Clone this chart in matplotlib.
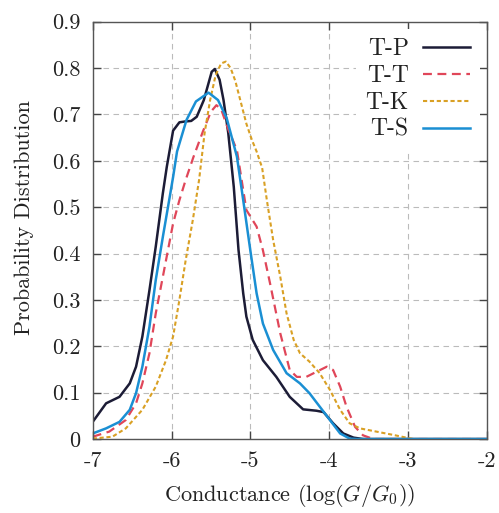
import numpy as np
import matplotlib
matplotlib.use("Agg")
import matplotlib.pyplot as plt

# values
tp_x = [-7, -6.83, -6.66, -6.53, -6.45, -6.37, -6.28, -6.20, -6.11, -6.06, -5.98, -5.90, -5.82, -5.75,
        -5.68, -5.59, -5.49, -5.45, -5.39, -5.34, -5.28, -5.21, -5.15, -5.09, -5.05, -4.97, -4.84,
        -4.67, -4.50, -4.33, -4.16, -4.07, -3.95, -3.82, -3.69, -3.57, -2]
tp_y = [0.037, 0.077, 0.091, 0.12, 0.156, 0.221, 0.321, 0.415, 0.530, 0.587, 0.665, 0.683, 0.685, 0.686,
        0.695, 0.731, 0.792, 0.798, 0.775, 0.731, 0.66, 0.544, 0.408, 0.314, 0.264, 0.214, 0.17,
        0.134, 0.091, 0.064, 0.061, 0.058, 0.034, 0.012, 0.003, 0, 0]

tt_x = [-7, -6.79, -6.58, -6.45, -6.37, -6.28, -6.20, -6.11, -5.98, -5.90, -5.82, -5.72, -5.60, -5.50,
        -5.43, -5.37, -5.28, -5.17, -5.05, -4.92, -4.84, -4.75, -4.62, -4.50, -4.41, -4.29, -4.16,
        -4.03, -3.95, -3.86, -3.78, -3.67, -3.57, -3.44, -2]
tt_y = [0.005, 0.016, 0.041, 0.077, 0.12, 0.185, 0.271, 0.35, 0.465, 0.515, 0.559, 0.609, 0.664, 0.706,
        0.72, 0.711, 0.668, 0.623, 0.494, 0.458, 0.407, 0.336, 0.228, 0.149, 0.134, 0.134, 0.145,
        0.156, 0.149, 0.113, 0.070, 0.026, 0.008, 0, 0]

tk_x = [-7, -6.75, -6.58, -6.37, -6.20, -6.07, -5.98, -5.90, -5.82, -5.73, -5.65, -5.58, -5.51, -5.44,
        -5.37, -5.31, -5.25, -5.19, -5.12, -5.05, -4.98, -4.92, -4.85, -4.79, -4.71, -4.62, -4.54,
        -4.45, -4.37, -4.25, -4.12, -3.99, -3.86, -3.74, -3.61, -3.40, -3.19, -3.02, -2.93, -2]
tk_y = [0.001, 0.005, 0.023, 0.063, 0.113, 0.17, 0.221, 0.30, 0.386, 0.472, 0.559, 0.66, 0.731, 0.785,
        0.81, 0.814, 0.80, 0.772, 0.726, 0.68, 0.645, 0.62, 0.585, 0.515, 0.429, 0.35, 0.271,
        0.214, 0.185, 0.167, 0.142, 0.106, 0.063, 0.034, 0.023, 0.016, 0.009, 0.003, 0, 0]

ts_x = [-7, -6.83, -6.66, -6.53, -6.45, -6.37, -6.28, -6.20, -6.11, -6.03, -5.98, -5.93, -5.81, -5.69,
        -5.53, -5.41, -5.30, -5.17, -5.09, -5.00, -4.92, -4.84, -4.71, -4.54, -4.37, -4.25, -4.12,
        -3.99, -3.86, -3.74, -3.65, -2]
ts_y = [0.012, 0.023, 0.037, 0.063, 0.099, 0.156, 0.242, 0.343, 0.436, 0.515, 0.565, 0.620, 0.688, 0.728,
        0.747, 0.731, 0.692, 0.609, 0.515, 0.407, 0.314, 0.249, 0.192, 0.142, 0.12, 0.099, 0.070,
        0.041, 0.012, 0.001, 0, 0]

x_ticks = [-7, -6, -5, -4, -3, -2]
y_ticks = [0, 0.1, 0.2, 0.3, 0.4, 0.5, 0.6, 0.7, 0.8, 0.9]
y_labels = ["0", "0.1", "0.2", "0.3", "0.4", "0.5", "0.6", "0.7", "0.8", "0.9"]

plt.rcParams['font.family'] = ['cmr10', 'DejaVu Serif']
plt.rcParams['mathtext.fontset'] = 'cm'
plt.rcParams['axes.unicode_minus'] = False
plt.rcParams['axes.formatter.use_mathtext'] = True

txt = '#222222'
fig = plt.figure(figsize=(4.99, 5.13), dpi=100)
ax = fig.add_axes([0.1858, 0.1442, 0.7896, 0.8135])

ax.plot(tp_x, tp_y, color='#1c1c36', lw=1.8, label='T-P')
ax.plot(tt_x, tt_y, color='#e04659', lw=1.6, ls=(0, (4, 2.5)), label='T-T')
ax.plot(tk_x, tk_y, color='#d9a024', lw=1.5, ls=(0, (2, 1.3)), label='T-K')
ax.plot(ts_x, ts_y, color='#1a8fd3', lw=1.8, label='T-S')

ax.set_xlim(-7, -2)
ax.set_ylim(0, 0.9)
ax.set_xticks(x_ticks)
ax.set_xticklabels([str(v) for v in x_ticks])
ax.set_yticks(y_ticks)
ax.set_yticklabels(y_labels)
ax.grid(True, color='#bbbbbb', ls=(0, (5, 4)), lw=0.8)
ax.tick_params(direction='in', top=True, right=True, length=6, width=1.0,
               labelsize=16, colors='#444444', labelcolor=txt)
ax.tick_params(axis='x', pad=9)
ax.tick_params(axis='y', pad=9)
for s in ax.spines.values():
    s.set_color('#555555')
    s.set_linewidth(1.0)

ax.set_xlabel(r'Conductance ($\log(G/G_0)$)', fontsize=16, color=txt, labelpad=8)
ax.set_ylabel('Probability Distribution', fontsize=16, color=txt)
ax.yaxis.set_label_coords(-0.15, 0.53)

leg = ax.legend(loc='upper right', markerfirst=False, frameon=True, fontsize=17,
                handlelength=2.0, handletextpad=0.6, labelspacing=0.2,
                borderaxespad=0.3, fancybox=False)
leg.get_frame().set_edgecolor('none')
leg.get_frame().set_facecolor('white')
leg.get_frame().set_alpha(1.0)
for t in leg.get_texts():
    t.set_color(txt)
    t.set_ha('right')

fig.savefig('out.png', dpi=100)
